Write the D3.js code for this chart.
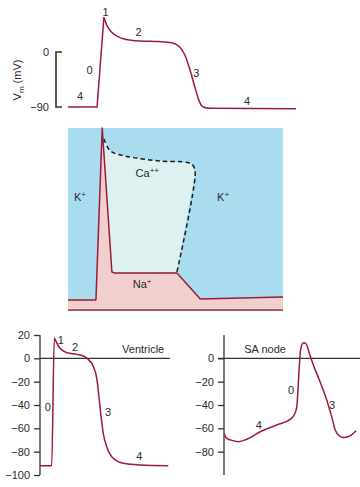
<!DOCTYPE html>
<html><head><meta charset="utf-8">
<script src="https://cdn.jsdelivr.net/npm/d3@7"></script>
<style>
body{margin:0;background:#fff;}
svg{display:block;font-family:"Liberation Sans",Arial,sans-serif;}
text{fill:#2a2a2a;font-size:11px;}
</style></head><body>
<svg id="c" width="360" height="487"></svg>
<script>
// ---------- DATA ----------
// Top: ventricular action potential (time ms, mV)
const topAP_t = [0, 51, 63, 68, 75, 86, 100, 126, 161, 182, 196, 205, 214, 223, 230, 237, 249, 400];
const topAP_v = [-90, -90, 57, 44, 34, 26, 21, 18, 17, 15, 8, -5, -29, -59, -80, -90, -92, -93];
const topTicks = [0, -90];
const topPhaseLabels = [{p:"1",t:66,v:65},{p:"2",t:124,v:33},{p:"0",t:38,v:-30},{p:"3",t:225,v:-35},{p:"4",t:21,v:-72},{p:"4",t:314,v:-81}];

// Middle: ionic currents schematic (time ms, relative units 0..100)
const na_t = [0, 49, 60, 77, 82, 191, 232, 377];
const na_v = [5.5, 5.5, 100, 20.9, 20.3, 20.3, 6, 7.1];
const ca_t = [60, 63, 74, 100, 161, 210, 219, 223, 191];
const ca_v = [100, 94, 87.5, 84.6, 81.9, 81, 79.5, 75.5, 20.9];
const ionLabels = [{s:"K",sup:"+",t:21,v:62},{s:"Ca",sup:"++",t:139,v:75},{s:"K",sup:"+",t:272,v:62},{s:"Na",sup:"+",t:130,v:14}];

// Bottom left: ventricle
const ven_t = [0, 27, 33, 35, 46, 62, 85, 100, 111, 123, 131, 136, 141, 146, 154, 169, 192, 231, 296];
const ven_v = [-92, -92, 17.5, 16, 8.6, 4.9, 3.4, 2, -0.8, -7.1, -17.1, -32.9, -50, -64.3, -75.7, -85.7, -90, -91.4, -92];
const venTicks = [20, 0, -20, -40, -60, -80, -100];
const venLabels = [{p:"1",t:48,v:16},{p:"2",t:81,v:10},{p:"Ventricle",t:238,v:8},{p:"0",t:18,v:-42},{p:"3",t:157,v:-46},{p:"4",t:229,v:-84}];

// Bottom right: SA node
const sa_t = [0, 6, 21, 32, 51, 81, 118, 148, 157, 163, 166, 169, 172, 178, 184, 191, 200, 215, 230, 241, 249, 258, 267, 282, 296];
const sa_v = [-64.3, -68.6, -70.6, -71.4, -69.4, -62.9, -57.1, -52.3, -48.6, -41.4, -24.3, -4.3, 8.6, 13.4, 12.3, 4.3, -5.7, -20, -35.7, -50, -61.4, -66.4, -67.9, -66.4, -62];
const saTicks = [0, -20, -40, -60, -80];
const saLabels = [{p:"SA node",t:92,v:8},{p:"0",t:150,v:-27},{p:"3",t:242,v:-40},{p:"4",t:78,v:-57}];

// ---------- DRAW ----------
const svg = d3.select("#c");
const RED = "#9c1a3c", AX = "#333";
const zip = (ts, vs) => ts.map((t,i)=>({t, v:vs[i]}));

// ---- Top panel
const xT = d3.scaleLinear().domain([0,400]).range([68,296]);
const yT = d3.scaleLinear().domain([-90,0]).range([107,52]);
const topData = zip(topAP_t, topAP_v);
const gT = svg.append("g");
// bracket
gT.append("path").attr("d", `M62,${yT(0)}H56V${yT(-90)}H62`).attr("fill","none").attr("stroke",AX).attr("stroke-width",1.6);
topTicks.forEach(v => gT.append("text").attr("x",49).attr("y",yT(v)).attr("dy","0.35em").attr("text-anchor","end").text(d3.format("")(v).replace("-","\u2212")));
const vm = gT.append("text").attr("transform","translate(17,80) rotate(-90)").attr("text-anchor","middle").attr("dy","0.35em");
vm.append("tspan").text("V");
vm.append("tspan").attr("font-size","8px").attr("dy","3").text("m");
vm.append("tspan").attr("dy","-3").text(" (mV)");
const upT = topData.slice(0,3), downT = topData.slice(2);
gT.append("path").attr("d", d3.line().x(d=>xT(d.t)).y(d=>yT(d.v))(upT)).attr("fill","none").attr("stroke",RED).attr("stroke-width",1.5);
gT.append("path").attr("d", d3.line().x(d=>xT(d.t)).y(d=>yT(d.v)).curve(d3.curveMonotoneX)(downT)).attr("fill","none").attr("stroke",RED).attr("stroke-width",1.5);
topPhaseLabels.forEach(l => gT.append("text").attr("x",xT(l.t)).attr("y",yT(l.v)).attr("dy","0.35em").attr("text-anchor","middle").text(l.p));

// ---- Middle panel
const xM = d3.scaleLinear().domain([0,377]).range([68,283]);
const yM = d3.scaleLinear().domain([0,100]).range([310,128]);
const na = zip(na_t, na_v), ca = zip(ca_t, ca_v);
const gM = svg.append("g");
gM.append("rect").attr("x",xM(0)).attr("y",yM(100)).attr("width",xM(377)-xM(0)).attr("height",yM(1)-yM(100)).attr("fill","#a8dcee");
const lineM = d3.line().x(d=>xM(d.t)).y(d=>yM(d.v));
// Ca region (light)
const caPoly = ca.concat(na.slice(2,5).reverse());
gM.append("path").attr("d", lineM(caPoly)+"Z").attr("fill","#dcf1f0");
// Na area
gM.append("path").attr("d", d3.area().x(d=>xM(d.t)).y0(yM(0.8)).y1(d=>yM(d.v))(na)).attr("fill","#f2cfcf");
gM.append("path").attr("d", lineM(na)).attr("fill","none").attr("stroke",RED).attr("stroke-width",1.5).attr("stroke-linejoin","round");
gM.append("line").attr("x1",xM(0)).attr("x2",xM(377)).attr("y1",yM(0)).attr("y2",yM(0)).attr("stroke",RED).attr("stroke-width",1.6);
// Ca dashed boundary
gM.append("path").attr("d", d3.line().x(d=>xM(d.t)).y(d=>yM(d.v)).curve(d3.curveCatmullRom)(ca.slice(1))).attr("fill","none").attr("stroke","#1a1a1a").attr("stroke-width",1.5).attr("stroke-dasharray","4.5,3");
ionLabels.forEach(l => {
  const t = gM.append("text").attr("x",xM(l.t)).attr("y",yM(l.v)).attr("dy","0.35em").attr("text-anchor","middle");
  t.append("tspan").text(l.s);
  t.append("tspan").attr("font-size","8px").attr("dy","-4").text(l.sup);
});

// ---- Bottom panels
const yB = d3.scaleLinear().domain([-100,20]).range([475,335]);
function panel(x0, x1, ticks, data, labels, zeroL, zeroR, axTop, axBot) {
  const x = d3.scaleLinear().domain([0,300]).range([x0, x1]);
  const g = svg.append("g");
  const ax = g.append("g").attr("transform",`translate(${x0},0)`)
    .call(d3.axisLeft(yB).tickValues(ticks).tickSize(6).tickSizeOuter(0).tickPadding(4).tickFormat(d3.format("")));
  ax.select(".domain").remove();
  ax.selectAll("line").attr("stroke",AX).attr("stroke-width",1.3);
  ax.selectAll("text").attr("font-size","11px").attr("fill","#2a2a2a").attr("font-family","Liberation Sans, Arial, sans-serif");
  g.append("line").attr("x1",x0).attr("x2",x0).attr("y1",yB(axTop)).attr("y2",yB(axBot)).attr("stroke",AX).attr("stroke-width",1.3);
  g.append("line").attr("x1",zeroL).attr("x2",zeroR).attr("y1",yB(0)).attr("y2",yB(0)).attr("stroke",AX).attr("stroke-width",1.3);
  g.append("path").attr("d", d3.line().x(d=>x(d.t)).y(d=>yB(d.v)).curve(d3.curveMonotoneX)(data)).attr("fill","none").attr("stroke",RED).attr("stroke-width",1.5);
  labels.forEach(l => g.append("text").attr("x",x(l.t)).attr("y",yB(l.v)).attr("dy","0.35em").attr("text-anchor","middle").text(l.p));
  return x;
}
panel(40, 170, venTicks, zip(ven_t, ven_v), venLabels, 40, 170, 20, -100);
panel(224, 358, saTicks, zip(sa_t, sa_v), saLabels, 218, 360, 20, -100);
</script></body></html>
